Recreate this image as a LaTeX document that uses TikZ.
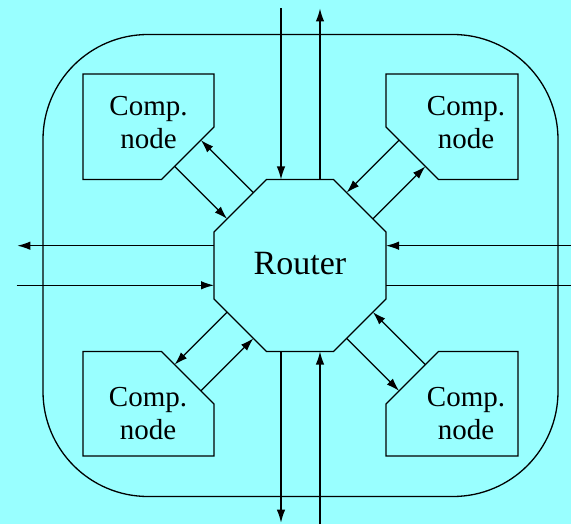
\documentclass[tikz,border=0pt]{standalone}
\usepackage{fontspec}
\setmainfont{Liberation Serif}
\usetikzlibrary{arrows.meta,calc}
\definecolor{bgcyan}{RGB}{153,255,255}
\tikzset{
  wire/.style={line width=1.3pt, draw=black},
  link/.style={wire, -{Latex[length=13pt,width=8.5pt]}},
  outline/.style={line width=1.3pt, draw=black, line join=miter},
  % anchored at the baseline of the last line
  comptext/.style={align=center, inner sep=0pt, anchor=base,
    font=\fontsize{29}{33}\selectfont},
  routertext/.style={inner sep=0pt, anchor=base,
    font=\fontsize{34}{40}\selectfont},
}
\begin{document}
\begin{tikzpicture}[x=1pt,y=-1pt]
  \fill[bgcyan] (0,0) rectangle (571,524);
  \useasboundingbox (0,0) rectangle (571,524);

  % outer frame of the chip
  \draw[outline, rounded corners=105pt] (43,34.5) rectangle (558,496.5);

  % router octagon corners
  \coordinate (o1) at (266.5,179.5);
  \coordinate (o2) at (333.5,179.5);
  \coordinate (o3) at (386,232);
  \coordinate (o4) at (386,299);
  \coordinate (o5) at (333.5,351.5);
  \coordinate (o6) at (266.5,351.5);
  \coordinate (o7) at (214,299);
  \coordinate (o8) at (214,232);
  \draw[outline] (o1) -- (o2) -- (o3) -- (o4) -- (o5) -- (o6) -- (o7) -- (o8) -- cycle;
  \node[routertext] (router) at (300,275) {Router};

  % compute nodes: boxes with one corner cut towards the router
  \coordinate (tla) at (214,127);   \coordinate (tlb) at (161.5,179.5);
  \draw[outline] (83,74) -- (214,74) -- (tla) -- (tlb) -- (83,179.5) -- cycle;
  \node[comptext] (tl) at (148.5,149) {Comp.\\node};

  \coordinate (trc) at (386,127);   \coordinate (trd) at (438.5,179.5);
  \draw[outline] (386,74) -- (518,74) -- (518,179.5) -- (trd) -- (trc) -- cycle;
  \node[comptext] (tr) at (466,149) {Comp.\\node};

  \coordinate (bre) at (438.5,351.5); \coordinate (brf) at (386,404);
  \draw[outline] (bre) -- (518,351.5) -- (518,456) -- (386,456) -- (brf) -- cycle;
  \node[comptext] (br) at (466,439) {Comp.\\node};

  \coordinate (blg) at (214,404);   \coordinate (blh) at (161.5,351.5);
  \draw[outline] (83,351.5) -- (blh) -- (blg) -- (214,456) -- (83,456) -- cycle;
  \node[comptext] (bl) at (148,439) {Comp.\\node};

  % links between compute nodes and router
  \draw[link] ($(tlb)!0.25!(tla)$) -- ($(o8)!0.25!(o1)$);
  \draw[link] ($(o8)!0.75!(o1)$) -- ($(tlb)!0.75!(tla)$);
  \draw[link] ($(trc)!0.25!(trd)$) -- ($(o2)!0.25!(o3)$);
  \draw[link] ($(o2)!0.75!(o3)$) -- ($(trc)!0.75!(trd)$);
  \draw[link] ($(bre)!0.25!(brf)$) -- ($(o4)!0.25!(o5)$);
  \draw[link] ($(o4)!0.75!(o5)$) -- ($(bre)!0.75!(brf)$);
  \draw[link] ($(blg)!0.25!(blh)$) -- ($(o6)!0.25!(o7)$);
  \draw[link] ($(o6)!0.75!(o7)$) -- ($(blg)!0.75!(blh)$);

  % external channels
  \coordinate (nin)  at (281,8.3);   \coordinate (nout) at (320,8.5);
  \coordinate (ein)  at (571,245.7); \coordinate (eout) at (571,285.3);
  \coordinate (sout) at (281,522.7); \coordinate (sin)  at (320,524);
  \coordinate (wout) at (17.3,245.7); \coordinate (win) at (16.7,285.3);

  \draw[link] (nin) -- (nin |- o1);
  \draw[link] (nout |- o2) -- (nout);
  \draw[link] (ein) -- (ein -| o3);
  \draw[wire] (eout -| o4) -- (eout);
  \draw[link] (sout |- o6) -- (sout);
  \draw[link] (sin) -- (sin |- o5);
  \draw[link] (wout -| o8) -- (wout);
  \draw[link] (win) -- (win -| o7);
\end{tikzpicture}
\end{document}
